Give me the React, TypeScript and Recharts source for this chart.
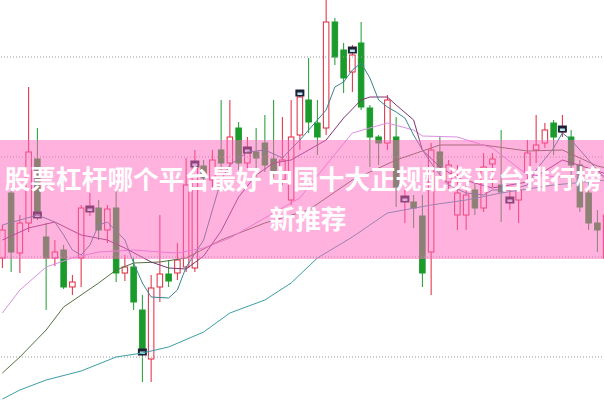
import React from 'react';
import { ComposedChart, Bar, Line, XAxis, YAxis, ReferenceLine } from 'recharts';

const days: string[] = Array.from({ length: 70 }, (_, i) => `K${i + 1}`);

const opens = [
  19.9, 26.4, 20.4, 23.4, 29.8, 22.0, 19.9, 20.7, 17.0, 19.9,
  24.6, 24.9, 22.7, 24.9, 18.4, 19.0, 14.7, 9.8, 17.0, 18.3,
  18.4, 19.0, 18.9, 29.1, 27.7, 30.7, 29.4, 32.9, 29.4, 30.5,
  31.4, 29.8, 27.7, 25.7, 32.2, 35.7, 33.4, 32.9, 43.5, 40.7,
  38.5, 41.4, 34.9, 32.0, 31.4, 32.0, 25.7, 25.5, 24.1, 20.5,
  30.5, 27.5, 24.2, 24.2, 26.7, 24.9, 29.3, 27.2, 25.6, 25.7,
  28.5, 30.7, 31.4, 33.4, 32.5, 32.0, 29.2, 26.4, 23.4, 19.9,
];
const highs = [
  23.2, 26.9, 24.2, 37.0, 32.9, 23.4, 21.7, 21.2, 18.2, 25.2,
  26.4, 25.7, 25.2, 26.9, 20.2, 19.9, 16.2, 18.2, 24.2, 19.7,
  21.4, 29.9, 30.7, 29.7, 30.7, 35.7, 35.7, 33.5, 32.0, 32.9,
  34.2, 35.7, 34.0, 35.7, 36.7, 39.9, 35.7, 45.7, 43.9, 41.4,
  41.2, 43.5, 35.2, 32.2, 36.2, 34.0, 26.7, 26.2, 26.2, 31.4,
  32.0, 29.7, 29.2, 27.7, 27.7, 30.4, 30.4, 32.7, 26.7, 27.7,
  31.7, 34.2, 33.4, 33.7, 34.2, 32.7, 29.7, 27.5, 24.7, 24.7,
];
const lows = [
  18.9, 18.5, 18.4, 22.5, 23.7, 14.7, 19.1, 16.8, 16.2, 17.0,
  24.1, 21.7, 21.4, 17.5, 17.6, 14.7, 7.5, 7.5, 15.5, 17.0,
  17.7, 18.5, 18.5, 27.1, 26.7, 28.7, 28.9, 28.7, 28.9, 28.0,
  28.5, 27.9, 27.2, 25.2, 30.7, 32.4, 30.2, 32.2, 39.2, 36.4,
  36.5, 34.7, 29.0, 29.2, 30.7, 25.0, 23.4, 22.9, 17.0, 16.2,
  28.2, 26.7, 22.7, 22.7, 24.2, 24.5, 27.0, 23.5, 24.7, 23.4,
  27.4, 29.4, 30.9, 30.2, 32.0, 27.0, 24.5, 22.7, 20.5, 19.5,
];
const closes = [
  22.7, 20.5, 23.4, 30.5, 24.4, 19.9, 20.5, 17.0, 17.5, 24.9,
  24.9, 22.7, 24.8, 18.4, 19.0, 15.5, 10.5, 16.9, 18.3, 17.6,
  19.7, 27.2, 28.9, 27.9, 29.7, 29.4, 32.0, 29.4, 30.4, 29.9,
  29.2, 28.5, 29.7, 32.0, 36.0, 33.5, 32.0, 43.5, 40.0, 37.9,
  40.2, 35.0, 32.0, 31.4, 35.7, 27.0, 25.9, 24.9, 18.4, 30.7,
  29.0, 29.2, 26.4, 26.2, 24.9, 29.0, 29.8, 26.5, 25.8, 26.7,
  30.4, 31.2, 32.7, 32.0, 32.9, 29.2, 25.0, 23.4, 22.7, 24.2,
];
const markers = [
  null, null, null, null, 24.2, null, null, null, null, null,
  24.8, null, null, null, null, null, 10.5, null, null, null,
  null, null, 29.3, null, null, null, null, null, 30.7, null,
  null, null, null, null, 36.4, null, null, null, null, null,
  40.7, null, null, null, null, null, 25.8, null, null, null,
  null, null, null, null, null, null, null, null, 25.7, null,
  null, null, null, null, 32.8, null, null, null, null, null,
];
const ma5 = [
  23.2, null, 23.7, null, 24.2, null, 23.5, 22.2, 20.7, 20.2,
  21.2, 23.2, 23.5, null, 21.7, 19.4, 17.4, 16.0, null, 15.9,
  16.7, 19.0, null, 21.7, 24.7, 27.7, 29.2, null, 30.5, null,
  30.7, null, 29.9, null, 31.7, 32.7, null, 34.7, 37.0, 37.5,
  38.7, 39.4, 37.9, 35.7, 35.0, 34.5, 33.9, 32.2, 30.7, 29.4,
  28.2, 27.2, null, 26.4, null, 26.2, 26.7, null, 26.7, null,
  27.2, 28.7, null, 30.9, 32.4, 31.7, null, 29.7, null, 27.7,
];
const ma10 = [
  21.7, null, null, 22.9, null, null, 23.5, null, null, 22.2,
  null, null, 21.7, null, 20.9, null, null, 19.5, null, 18.9,
  null, 18.8, null, 20.1, null, 22.6, null, 26.0, null, 28.2,
  null, 29.4, null, 29.7, null, 30.7, null, 31.7, null, 33.9,
  null, 35.7, 36.0, null, 36.0, 35.2, null, 33.7, 30.7, null,
  29.0, null, 27.9, null, null, null, 26.9, null, null, null,
  27.5, null, null, null, 29.7, null, null, null, 28.6, 28.3,
];
const ma20 = [
  14.4, null, 16.7, null, null, 19.0, null, null, 19.9, null,
  null, 20.5, null, null, null, 20.7, null, null, 20.5, null,
  20.4, null, null, 20.9, null, null, 21.9, null, null, null,
  23.9, null, null, null, 25.9, null, null, 29.2, null, null,
  32.4, null, 32.9, null, 33.4, null, null, 32.7, 32.1, null,
  null, null, 32.0, null, null, null, 30.9, null, null, null,
  28.2, null, null, null, 28.0, null, null, null, 28.2, 28.1,
];
const ma30 = [
  8.4, null, 10.0, null, null, 12.7, null, 15.0, null, null,
  null, 17.4, null, 18.7, null, 19.4, null, null, 19.5, null,
  null, 19.9, null, null, null, 21.7, null, null, null, null,
  23.4, null, null, null, null, 24.7, null, null, null, null,
  27.7, null, null, null, null, 29.7, null, null, null, null,
  31.2, null, null, null, null, 31.2, null, null, null, null,
  30.6, null, null, null, 30.7, null, null, null, 29.1, 28.9,
];
const ma60 = [
  5.8, null, 6.7, null, null, 7.7, null, null, null, 8.6,
  null, null, null, 10.0, null, null, 10.4, null, null, 11.0,
  null, null, null, 12.5, null, null, 14.4, null, null, null,
  15.7, null, null, 17.4, null, null, 19.9, null, null, null,
  22.0, null, null, null, 24.4, null, null, null, null, 25.2,
  null, null, null, 25.7, null, null, null, 26.4, null, null,
  null, null, null, 27.2, null, null, null, null, null, 27.7,
];
const gridValues = [10, 20, 30, 40];

const rows = days.map((day, i) => ({
  day,
  open: opens[i],
  high: highs[i],
  low: lows[i],
  close: closes[i],
  range: [lows[i], highs[i]],
  marker: markers[i],
  ma5: ma5[i],
  ma10: ma10[i],
  ma20: ma20[i],
  ma30: ma30[i],
  ma60: ma60[i],
}));

const RED = '#e2263e';
const GREEN = '#1b9b2b';

const Candle = (props: any) => {
  const { x, y, width, height, payload } = props;
  if (!payload || x == null || y == null || isNaN(y)) return null;
  const { open, close, high, low, marker } = payload;
  const top = height >= 0 ? y : y + height;
  const h = Math.abs(height);
  const toY = (v: number) => top + (h * (high - v)) / (high - low);
  const cx = x + width / 2;
  const up = close >= open;
  const color = up ? RED : GREEN;
  const bTop = toY(Math.max(open, close));
  const bBot = toY(Math.min(open, close));
  const bh = Math.max(1, bBot - bTop);
  return (
    <g>
      <line x1={cx} x2={cx} y1={top} y2={top + h} stroke={color} strokeWidth={1} />
      <rect
        x={cx - 2.75}
        y={bTop}
        width={5.5}
        height={bh}
        fill={up ? '#ffffff' : color}
        stroke={color}
        strokeWidth={1}
      />
      {marker != null ? (
        <g>
          <rect x={cx - 4.5} y={toY(marker) - 3.5} width={9} height={7} fill="#1c2236" />
          <rect x={cx - 2.5} y={toY(marker) - 0.5} width={5} height={2.5} fill="#bfe6ee" />
        </g>
      ) : null}
    </g>
  );
};

export default function App() {
  return (
    <div
      style={{
        position: 'absolute',
        left: 0,
        top: 0,
        width: 604,
        height: 401,
        overflow: 'hidden',
        background: '#ffffff',
      }}
    >
      <div style={{ position: 'absolute', left: -2.375, top: 0 }}>
        <ComposedChart
          width={612.5}
          height={401}
          data={rows}
          margin={{ top: 0, right: 0, bottom: 0, left: 0 }}
        >
          <XAxis dataKey="day" type="category" hide />
          <YAxis type="number" hide domain={[5.6, 45.7]} allowDataOverflow />
          {gridValues.map((v) => (
            <ReferenceLine key={v} y={v} stroke="#9a9a9a" strokeDasharray="1 2" />
          ))}
          <Bar dataKey="range" shape={Candle} isAnimationActive={false} />
          <Line type="linear" dataKey="ma60" stroke="#3c9ea6" strokeWidth={1} dot={false} activeDot={false} connectNulls isAnimationActive={false} />
          <Line type="linear" dataKey="ma30" stroke="#56703e" strokeWidth={1} dot={false} activeDot={false} connectNulls isAnimationActive={false} />
          <Line type="linear" dataKey="ma20" stroke="#dc8ee4" strokeWidth={1} dot={false} activeDot={false} connectNulls isAnimationActive={false} />
          <Line type="linear" dataKey="ma10" stroke="#7c3570" strokeWidth={1} dot={false} activeDot={false} connectNulls isAnimationActive={false} />
          <Line type="linear" dataKey="ma5" stroke="#3a8491" strokeWidth={1} dot={false} activeDot={false} connectNulls isAnimationActive={false} />
        </ComposedChart>
      </div>
      <div
        style={{
          position: 'absolute',
          left: 0,
          top: 140,
          width: 604,
          height: 119,
          background: 'rgba(255,101,189,0.5)',
        }}
      />
      <div
        style={{
          position: 'absolute',
          left: -5,
          top: 158,
          width: 616,
          textAlign: 'center',
          color: '#ffffff',
          fontWeight: 700,
          fontSize: 25.7,
          lineHeight: '40px',
          fontFamily: '"Noto Sans CJK SC", sans-serif',
          whiteSpace: 'nowrap',
        }}
      >
        股票杠杆哪个平台最好 中国十大正规配资平台排行榜
        <br />
        <span style={{ position: 'relative', left: 5 }}>新推荐</span>
      </div>
    </div>
  );
}
